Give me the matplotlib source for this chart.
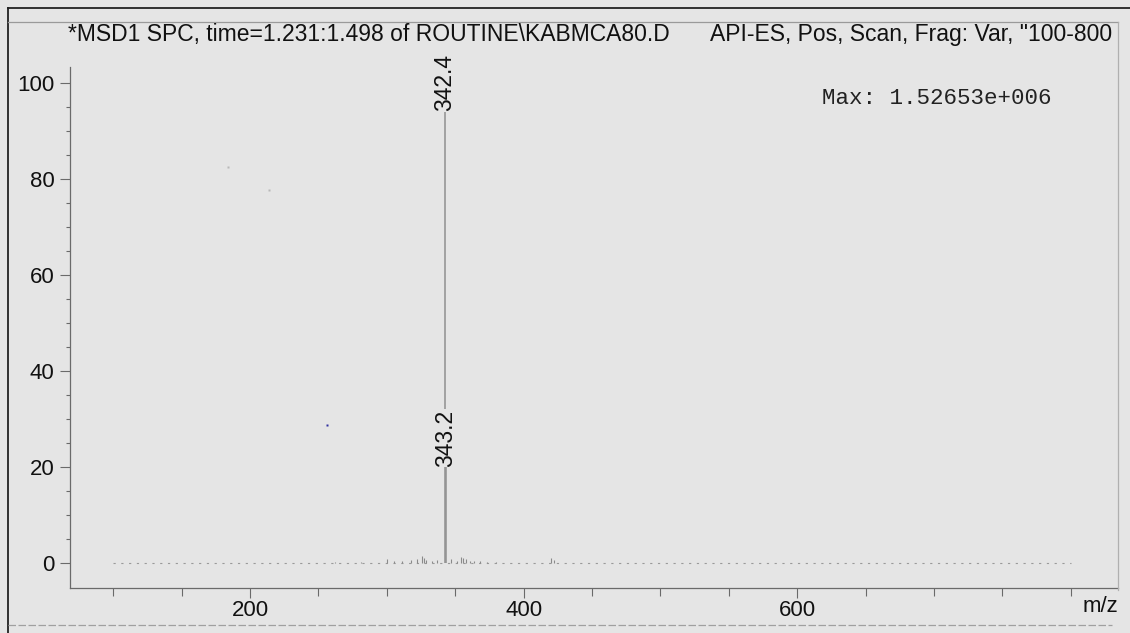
import matplotlib.pyplot as plt
from matplotlib.lines import Line2D

# labelled peaks
peak_mz = [342.4, 343.2]
peak_int = [100.0, 26.0]

# small noise peaks near the baseline
noise_mz = [262, 281, 300, 305, 311, 318, 322, 326, 327, 329, 333, 337,
            347, 351, 354, 356, 358, 361, 364, 368, 373, 380, 420, 422]
noise_int = [0.3, 0.3, 0.8, 0.4, 0.5, 0.6, 0.9, 1.4, 1.1, 0.7, 0.5, 0.6,
             0.9, 0.5, 1.2, 1.0, 0.8, 0.5, 0.4, 0.4, 0.3, 0.3, 1.0, 0.6]

x_ticks = [200, 400, 600]
x_minor = [100, 150, 250, 300, 350, 450, 500, 550, 650, 700, 750, 800]
y_ticks = [0, 20, 40, 60, 80, 100]
y_minor = [5, 10, 15, 25, 30, 35, 45, 50, 55, 65, 70, 75, 85, 90, 95]

title_left = "*MSD1 SPC, time=1.231:1.498 of ROUTINE\\KABMCA80.D"
title_right = 'API-ES, Pos, Scan, Frag: Var, "100-800'
max_text = "Max: 1.52653e+006"

bg = '#e5e5e5'
W, H = 1130, 633
fig = plt.figure(figsize=(11.3, 6.33), dpi=100, facecolor=bg)
plt.rcParams['font.family'] = ['Liberation Sans', 'DejaVu Sans']

# axes box: x from 70 to 1118 px, y from 22 to 588 px
ax = fig.add_axes([70 / W, (H - 588) / H, (1118 - 70) / W, (588 - 22) / H])
ax.set_facecolor(bg)
ax.set_xlim(68.4, 834.5)
ax.set_ylim(-5.2, 112.7)

ax.hlines(0, 100, 800, color='#9a9a9a', lw=0.8, linestyle=(0, (2, 5)))
ax.vlines(noise_mz, 0, noise_int, color='#8a8a8a', lw=0.8)
ax.vlines(peak_mz, 0, peak_int, color='#909090', lw=1.1)
for mz, h in zip(peak_mz, peak_int):
    ax.text(mz, h, f'{mz:.1f}', rotation=90, ha='center', va='center',
            fontsize=16.5, color='#111111',
            bbox=dict(facecolor=bg, edgecolor='none', pad=0.5))

# stray scan specks
ax.plot([256], [28.7], 's', ms=2, color='#3030a0', mec='none')
ax.plot([184, 214], [82.6, 77.8], 's', ms=1.5, color='#b8b8b8', mec='none')

for s in ['top', 'right']:
    ax.spines[s].set_visible(False)
ax.spines['left'].set_bounds(-5.2, 103.3)
for s in ['left', 'bottom']:
    ax.spines[s].set_color('#6a6a6a')
    ax.spines[s].set_linewidth(0.9)

ax.set_xticks(x_ticks)
ax.set_xticks(x_minor, minor=True)
ax.set_yticks(y_ticks)
ax.set_yticks(y_minor, minor=True)
ax.tick_params(axis='both', which='major', length=7, width=0.8,
               color='#6a6a6a', labelsize=16, labelcolor='#111111')
ax.tick_params(axis='y', which='major', pad=4)
ax.tick_params(axis='x', which='major', pad=2)
ax.tick_params(axis='x', which='minor', length=6, width=0.8, color='#6a6a6a')
ax.tick_params(axis='y', which='minor', length=3, width=0.8, color='#6a6a6a')

# title and annotations (figure pixel positions)
fig.text(68 / W, 1 - 35 / H, title_left, fontsize=16.5, ha='left',
         va='center', color='#111111')
fig.text(1112 / W, 1 - 35 / H, title_right, fontsize=16.5, ha='right',
         va='center', color='#111111')
fig.text(822 / W, 1 - 98 / H, max_text, fontsize=16.2, ha='left',
         va='center', family='Liberation Mono', color='#222222')
fig.text(1118 / W, 1 - 606 / H, 'm/z', fontsize=16, ha='right',
         va='center', color='#111111')

# outer frame
fig.add_artist(Line2D([8 / W, 8 / W], [0, 1 - 8 / H], color='#222222', lw=1.3))
fig.add_artist(Line2D([8 / W, 1], [1 - 8 / H, 1 - 8 / H], color='#222222', lw=1.3))
fig.add_artist(Line2D([8 / W, 1118 / W], [1 - 22 / H, 1 - 22 / H],
                      color='#9a9a9a', lw=0.9))
fig.add_artist(Line2D([1118 / W, 1118 / W], [1 - 22 / H, 1 - 590 / H],
                      color='#b0b0b0', lw=0.9))
fig.add_artist(Line2D([8 / W, 1112 / W], [1 - 625 / H, 1 - 625 / H],
                      color='#a0a0a0', lw=0.9, linestyle=(0, (6, 2))))

fig.savefig('out.png', dpi=100, facecolor=bg)
